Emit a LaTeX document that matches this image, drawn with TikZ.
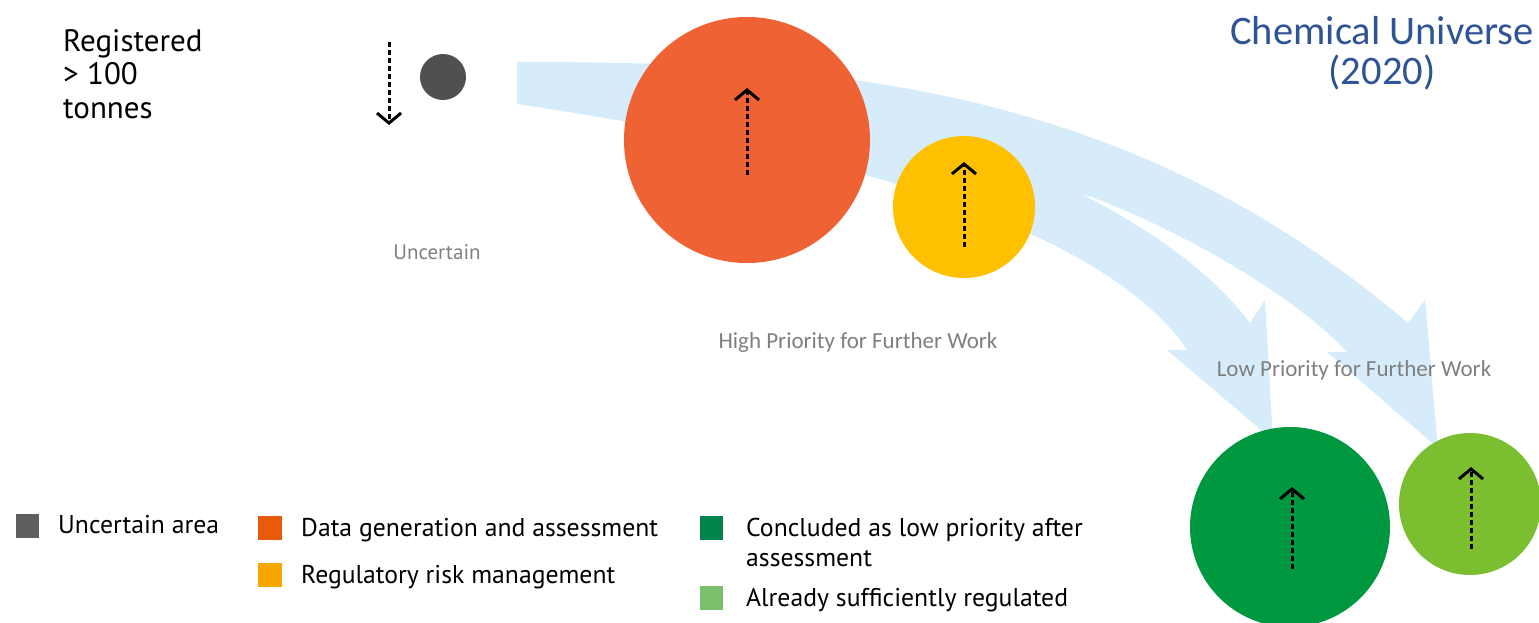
\documentclass[tikz,border=0pt]{standalone}
\usepackage{fontspec}
\setmainfont{PT Sans}
\newfontfamily\calibri{Carlito}
\usetikzlibrary{arrows.meta}

% palette
\definecolor{bandblue}{HTML}{D6ECFA}
\definecolor{uncgrey}{HTML}{505050}
\definecolor{dataorange}{HTML}{EF6233}
\definecolor{riskyellow}{HTML}{FFC000}
\definecolor{lowgreen}{HTML}{00983F}
\definecolor{regreen}{HTML}{7BBF31}
\definecolor{labelgrey}{HTML}{7F7F7F}
\definecolor{titleblue}{HTML}{2F5496}
\definecolor{keygrey}{HTML}{5F5F5F}
\definecolor{keyorange}{HTML}{E9590C}
\definecolor{keyyellow}{HTML}{F7A600}
\definecolor{keydkgreen}{HTML}{00834A}
\definecolor{keyltgreen}{HTML}{7CBF6A}

\tikzset{
  blob/.style={circle, inner sep=0pt, draw=none},
  shift arrow/.style={line width=3pt, dash pattern=on 5pt off 3pt,
    -{Straight Barb[length=10pt,width=24pt,line width=3pt]}},
  zone label/.style={font=\calibri\fontsize{23}{26}\selectfont, text=labelgrey, inner sep=0pt},
  keybox/.style={rectangle, inner sep=0pt, minimum size=23.5pt, draw=none},
  keytext/.style={font=\fontsize{25.7}{30}\selectfont, anchor=base west, inner sep=0pt, align=left}
}

\begin{document}
\begin{tikzpicture}[x=1pt,y=-1pt]
\useasboundingbox (0,0) rectangle (1539,623);

% flow band forking into two arrows
\fill[bandblue] (517,62) .. controls (814,62) and (1120,78) .. (1408,323)
  -- (1425,300) -- (1438,448) -- (1327,352) -- (1347,352)
  .. controls (1290,290) and (1160,220) .. (1080,193)
  .. controls (1150,230) and (1210,270) .. (1250,323)
  -- (1265,300) -- (1273,440) -- (1167,350) -- (1187,350)
  .. controls (1087,200) and (717,134) .. (517,104) -- cycle;

% substance groups
\node[blob, fill=uncgrey, minimum size=46pt] (unc) at (443,77) {};
\node[blob, fill=dataorange, minimum size=246pt] (data) at (747,140) {};
\node[blob, fill=riskyellow, minimum size=142pt] (risk) at (964,207) {};
\node[blob, fill=lowgreen, minimum size=200pt] (low) at (1290,527) {};
\node[blob, fill=regreen, minimum size=142pt] (reg) at (1470,504) {};

% expected shifts (yshift is measured upwards)
\coordinate (uncA) at (389,42);
\coordinate (uncB) at (389,125);
\draw[shift arrow] (uncA) -- (uncB);
\draw[shift arrow] ([yshift=-35pt]data.center) -- ([yshift=52pt]data.center);
\draw[shift arrow] ([yshift=-40pt]risk.center) -- ([yshift=45pt]risk.center);
\draw[shift arrow] ([xshift=2pt,yshift=-42pt]low.center) -- ([xshift=2pt,yshift=40pt]low.center);
\draw[shift arrow] ([xshift=1pt,yshift=-45pt]reg.center) -- ([xshift=1pt,yshift=37pt]reg.center);

% texts
\node[anchor=north west, inner sep=0pt, align=left,
      font=\fontsize{31}{33.5}\selectfont] (tonnage) at (63,29)
  {Registered\\> 100\\tonnes};
\node[font=\fontsize{21}{24}\selectfont, text=labelgrey, inner sep=0pt] (unclabel) at (437,252) {Uncertain};
\node[zone label] (high) at (858,342) {High Priority for Further Work};
\node[zone label] (lowlabel) at (1354,370) {Low Priority for Further Work};
\node[anchor=north, inner sep=0pt, align=center, text=titleblue,
      font=\calibri\fontsize{40.5}{40}\selectfont] (title) at (1382,16)
  {Chemical Universe\\(2020)};

% legend
\node[keybox, fill=keygrey] (k1) at (27.5,526) {};
\node[keytext] (t1) at (58,533) {Uncertain area};
\node[keybox, fill=keyorange] (k2) at (270,528) {};
\node[keytext] (t2) at (301,536) {Data generation and assessment};
\node[keybox, fill=keyyellow] (k3) at (270,575) {};
\node[keytext] (t3) at (301,583) {Regulatory risk management};
\node[keybox, fill=keydkgreen] (k4) at (711.5,528) {};
\node[keytext] (t4) at (746,566) {Concluded as low priority after\\assessment};
\node[keybox, fill=keyltgreen] (k5) at (711.5,598) {};
\node[keytext] (t5) at (746,606) {Already sufficiently regulated};
\end{tikzpicture}
\end{document}
